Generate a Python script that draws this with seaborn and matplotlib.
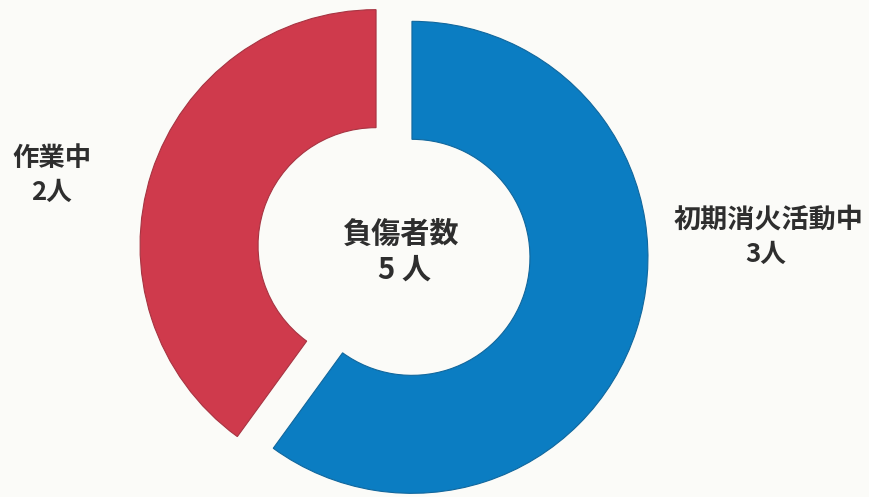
import matplotlib
matplotlib.use("Agg")
import matplotlib.pyplot as plt
import seaborn as sns

# Injured persons by activity at time of injury
categories = ["初期消火活動中", "作業中"]
counts = [3, 2]
colors = ["#0b7dc2", "#cf3a4c"]
total_title = "負傷者数"

sns.set_theme(style="white")
plt.rcParams["font.family"] = ["Noto Sans CJK JP", "DejaVu Sans"]

W, H = 869, 497
fig = plt.figure(figsize=(W / 100, H / 100), dpi=100, facecolor="#fbfbf8")
ax = fig.add_axes([0, 0, 1, 1])
ax.set_facecolor("#fbfbf8")

wedges, _ = ax.pie(
    counts,
    colors=colors,
    startangle=90,
    counterclock=False,
    radius=1.0,
    explode=[0.08, 0.08],
    wedgeprops=dict(width=0.5, edgecolor="none"),
)
for w, c in zip(wedges, colors):
    w.set_edgecolor(sns.dark_palette(c, n_colors=5)[3])
    w.set_linewidth(0.8)

# place the ring: centre at (394, 251.5) px, 236 px per unit radius
cx, cy, s = 394.0, 251.5, 236.0
ax.set_aspect("auto")
ax.set_xlim(-cx / s, (W - cx) / s)
ax.set_ylim(-(H - cy) / s, cy / s)
ax.axis("off")


def put(px, py, text, size):
    fig.text(px / W, 1 - py / H, text, ha="center", va="center",
             fontsize=size, fontweight="bold", color="#2e2e2e")


# left slice label
put(52, 158, categories[1], 19)
put(52, 192, f"{counts[1]}人", 18.5)
# right slice label
put(768, 220, categories[0], 19.5)
put(766, 254, f"{counts[0]}人", 18.5)
# centre total
put(400, 234, total_title, 21)
put(405, 270, f"{sum(counts)} 人", 21)

fig.savefig("out.png", dpi=100, facecolor=fig.get_facecolor())
